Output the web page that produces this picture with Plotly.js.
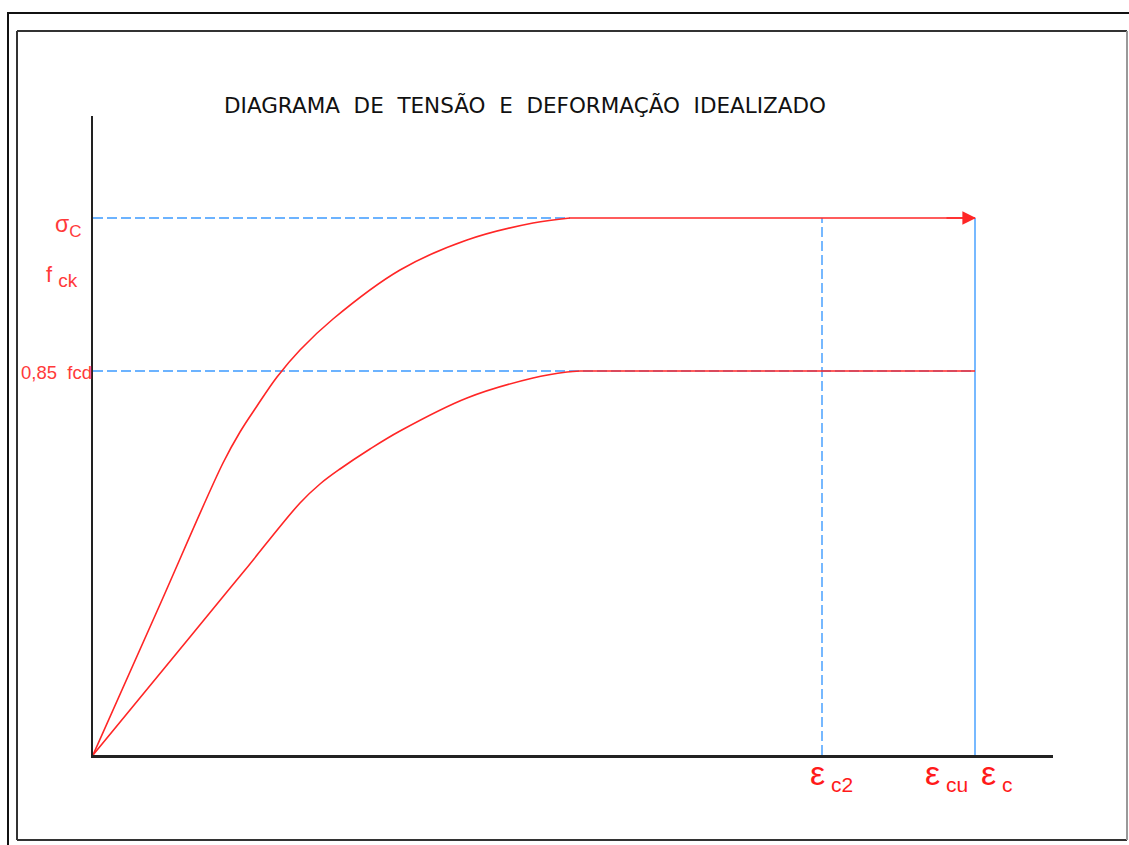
<!DOCTYPE html>
<html>
<head>
<meta charset="utf-8">
<script src="https://cdn.plot.ly/plotly-3.0.1.min.js"></script>
<style>
  html, body { margin: 0; padding: 0; background: #fff; }
  #chart { width: 1129px; height: 845px; }
</style>
</head>
<body>
<div id="chart"></div>
<script>
// Idealised stress-strain diagram for concrete (arbitrary units)
const strainFck = [0, 0.65, 1.30, 1.47, 1.64, 1.84, 2.07, 2.40, 3.07, 3.74, 4.40, 4.77, 8.82];
const stressFck = [0, 1.46, 2.92, 3.23, 3.49, 3.78, 4.05, 4.36, 4.85, 5.15, 5.32, 5.37, 5.37];

const strainFcd = [0, 0.97, 1.52, 2.07, 2.27, 2.47, 2.77, 3.07, 3.74, 4.40, 4.74, 4.87, 8.82];
const stressFcd = [0, 1.18, 1.85, 2.52, 2.71, 2.86, 3.06, 3.24, 3.57, 3.77, 3.83, 3.84, 3.84];

const levelFck = 5.37;      // σc / fck plateau
const levelFcd = 3.84;      // 0,85 fcd plateau
const epsC2 = 7.29;         // εc2
const epsCu = 8.82;         // εcu
const xMax = 9.6;
const yMax = 6.39;

const titleWords = ['DIAGRAMA', 'DE', 'TENSÃO', 'E', 'DEFORMAÇÃO', 'IDEALIZADO'];

const RED = '#ff2626';
const LABEL_RED = '#ff3a3a';
const BLUE_DASH = '#3d9bff';
const BLUE_SOLID = '#55a8ff';

const W = 1129, H = 845;
const M = { l: 93, r: 76, t: 116, b: 90 };
// helpers converting page pixels into paper coordinates for the drawing frame
const plotW = W - M.l - M.r, plotH = H - M.t - M.b;
const px = x => (x - M.l) / plotW;
const py = y => (H - M.b - y) / plotH;

const dash = '10px,4px';

// each curve: smooth rising branch + straight plateau
function curveTraces(xs, ys) {
  const n = xs.length;
  return [
    { x: xs.slice(0, n - 1), y: ys.slice(0, n - 1), mode: 'lines',
      line: { color: RED, width: 1.6, shape: 'spline', smoothing: 1 }, hoverinfo: 'skip' },
    { x: xs.slice(n - 2), y: ys.slice(n - 2), mode: 'lines',
      line: { color: RED, width: 1.6 }, hoverinfo: 'skip' }
  ];
}

const traces = [
  // horizontal guide at fck level
  { x: [0, strainFck[strainFck.length - 2]], y: [levelFck, levelFck], mode: 'lines',
    line: { color: BLUE_DASH, width: 1.4, dash: dash }, hoverinfo: 'skip' },
  // horizontal guide at 0,85 fcd level
  { x: [0, epsCu], y: [levelFcd, levelFcd], mode: 'lines',
    line: { color: BLUE_DASH, width: 1.4, dash: dash }, hoverinfo: 'skip' },
  // vertical guide at εc2
  { x: [epsC2, epsC2], y: [0, levelFck], mode: 'lines',
    line: { color: BLUE_DASH, width: 1.4, dash: dash }, hoverinfo: 'skip' },
  // ultimate strain εcu
  { x: [epsCu, epsCu], y: [0, levelFck], mode: 'lines',
    line: { color: BLUE_SOLID, width: 1.6 }, hoverinfo: 'skip' }
].concat(curveTraces(strainFcd, stressFcd), curveTraces(strainFck, stressFck));

const epsFont = { family: 'Liberation Sans, Arial, sans-serif', size: 34, color: '#ff1a1a' };
const epsLabel = sub => '<span style="font-size:34px">ε</span><sub><span style="font-size:21px"> ' + sub + '</span></sub>';

const annotations = [
  // arrow head at the end of the fck plateau
  { x: epsCu + 0.01, y: levelFck, ax: epsCu - 0.3, ay: levelFck, xref: 'x', yref: 'y',
    axref: 'x', ayref: 'y', text: '', showarrow: true, arrowhead: 2, arrowsize: 1.7,
    arrowwidth: 1.6, arrowcolor: RED, standoff: 0 },
  // stress labels on the left
  { x: 0, y: levelFck, xref: 'paper', yref: 'y', xanchor: 'right', yanchor: 'middle',
    xshift: -10, yshift: -8, showarrow: false,
    text: 'σ<sub><span style="font-size:17px">C</span></sub>',
    font: { family: 'Liberation Sans, Arial, sans-serif', size: 23, color: LABEL_RED } },
  { x: 0, y: levelFck, xref: 'paper', yref: 'y', xanchor: 'right', yanchor: 'middle',
    xshift: -13, yshift: -58, showarrow: false,
    text: 'f <sub><span style="font-size:19px">ck</span></sub>',
    font: { family: 'Liberation Sans, Arial, sans-serif', size: 22, color: LABEL_RED } },
  { x: 0, y: levelFcd, xref: 'paper', yref: 'y', xanchor: 'right', yanchor: 'middle',
    xshift: 1, yshift: -1, showarrow: false,
    text: '0,85\u00a0\u00a0fcd',
    font: { family: 'Liberation Sans, Arial, sans-serif', size: 18.5, color: LABEL_RED } },
  // strain labels under the axis
  { x: epsC2, y: 0, xref: 'x', yref: 'y', xanchor: 'left', yanchor: 'top',
    xshift: -14, yshift: 3, showarrow: false, text: epsLabel('c2'), font: epsFont },
  { x: epsCu, y: 0, xref: 'x', yref: 'y', xanchor: 'right', yanchor: 'top',
    xshift: -5, yshift: 3, showarrow: false, text: epsLabel('cu'), font: epsFont },
  { x: epsCu, y: 0, xref: 'x', yref: 'y', xanchor: 'left', yanchor: 'top',
    xshift: 4, yshift: 3, showarrow: false, text: epsLabel('c'), font: epsFont }
];

// drawing frame (double border)
const frame = [
  { type: 'rect', xref: 'paper', yref: 'paper', x0: px(8), y0: py(860), x1: px(1150), y1: py(13),
    line: { color: '#111', width: 2 } },
  { type: 'line', xref: 'paper', yref: 'paper', x0: px(17), y0: py(31), x1: px(1127), y1: py(31),
    line: { color: '#333', width: 2 } },
  { type: 'line', xref: 'paper', yref: 'paper', x0: px(17), y0: py(31), x1: px(17), y1: py(840),
    line: { color: '#333', width: 2 } },
  { type: 'line', xref: 'paper', yref: 'paper', x0: px(17), y0: py(840), x1: px(1127), y1: py(840),
    line: { color: '#333', width: 2 } },
  { type: 'line', xref: 'paper', yref: 'paper', x0: px(1127), y0: py(31), x1: px(1127), y1: py(840),
    line: { color: '#999', width: 2 } }
];

const axisCommon = {
  showgrid: false, zeroline: false, showticklabels: false, ticks: '',
  showline: true, linecolor: '#222', linewidth: 2.5, fixedrange: true
};

const layout = {
  width: W, height: H, autosize: false,
  margin: M,
  paper_bgcolor: '#fff', plot_bgcolor: '#fff',
  showlegend: false,
  title: {
    text: titleWords.join('\u00a0\u00a0'),
    x: 525 / W, xanchor: 'center', xref: 'container',
    y: 1 - 105 / H, yanchor: 'middle', yref: 'container',
    font: { family: 'DejaVu Sans, sans-serif', size: 21.5, color: '#111' }
  },
  xaxis: Object.assign({ range: [0, xMax] }, axisCommon),
  yaxis: Object.assign({ range: [0, yMax] }, axisCommon),
  annotations: annotations,
  shapes: frame
};

Plotly.newPlot('chart', traces, layout, { displayModeBar: false, staticPlot: true });
</script>
</body>
</html>
